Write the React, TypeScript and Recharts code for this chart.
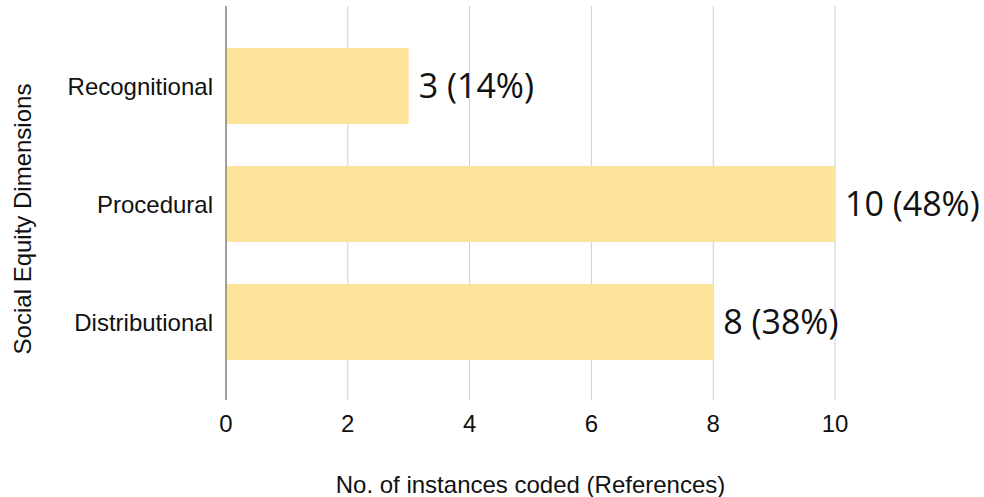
import { Bar, BarChart, CartesianGrid, LabelList, XAxis, YAxis } from 'recharts'

const dimensions = ['Recognitional', 'Procedural', 'Distributional']
const instances = [3, 10, 8]
const shares = ['14%', '48%', '38%']
const xTicks = [0, 2, 4, 6, 8, 10]

const dados = dimensions.map((d, i) => ({
  dimensao: d,
  n: instances[i],
  rotulo: `${instances[i]} (${shares[i]})`,
}))

const sans = 'Liberation Sans, Arial, sans-serif'

function TituloY({ viewBox }: any) {
  const x = viewBox.x + 31
  const y = viewBox.y + viewBox.height / 2 + 16
  return (
    <text
      x={x}
      y={y}
      transform={`rotate(-90 ${x} ${y})`}
      textAnchor="middle"
      fontSize={24}
      fill="#111"
      fontFamily={sans}
    >
      Social Equity Dimensions
    </text>
  )
}

export default function App() {
  return (
    <div style={{ position: 'absolute', left: 0, top: 0 }}>
      <BarChart
        width={984}
        height={497}
        data={dados}
        layout="vertical"
        margin={{ top: 6, right: 149, left: 0, bottom: 0 }}
      >
        <CartesianGrid horizontal={false} stroke="#cfcfcf" />
        <XAxis
          type="number"
          domain={[0, 10]}
          ticks={xTicks}
          axisLine={false}
          tickLine={false}
          tickSize={0}
          tickMargin={15}
          height={97}
          tick={{ fontSize: 24, fill: '#111', fontFamily: sans }}
          label={{
            value: 'No. of instances coded (References)',
            position: 'insideBottom',
            offset: 4,
            fontSize: 24,
            fill: '#111',
            fontFamily: sans,
          }}
        />
        <YAxis
          type="category"
          dataKey="dimensao"
          width={226}
          padding={{ top: 21, bottom: 19 }}
          axisLine={{ stroke: '#555' }}
          tickLine={false}
          tickSize={0}
          tickMargin={13}
          tick={{ fontSize: 24, fill: '#111', fontFamily: sans }}
          label={<TituloY />}
        />
        <Bar dataKey="n" fill="#fde49a" barSize={76} radius={2} isAnimationActive={false}>
          <LabelList
            dataKey="rotulo"
            position="right"
            offset={10}
            fontSize={34}
            fill="#111"
            fontFamily="Open Sans, sans-serif"
          />
        </Bar>
      </BarChart>
    </div>
  )
}
